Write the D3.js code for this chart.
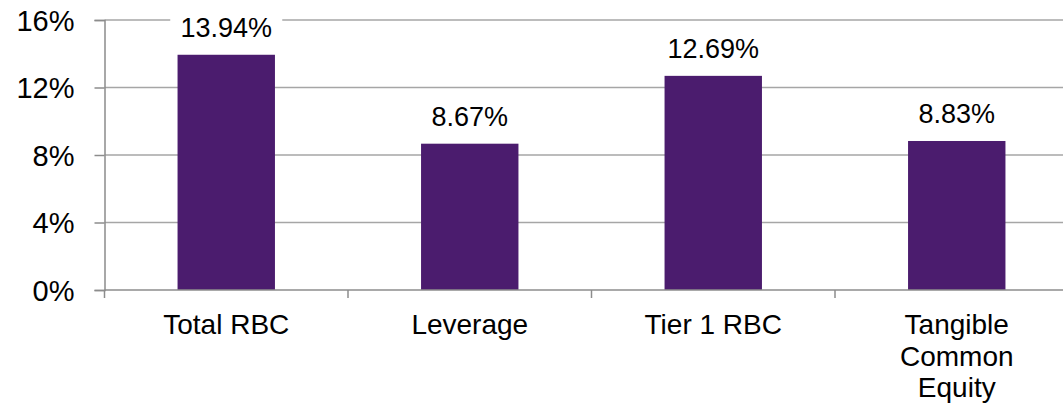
<!DOCTYPE html>
<html><head><meta charset="utf-8">
<script src="https://cdn.jsdelivr.net/npm/d3@7"></script>
<style>body{margin:0;background:#fff}svg{display:block}text{font-family:"Liberation Sans",Arial,sans-serif;fill:#000}</style>
</head><body><svg id="c" width="1063" height="408"></svg>
<script>
const categories = [["Total RBC"], ["Leverage"], ["Tier 1 RBC"], ["Tangible", "Common", "Equity"]];
const values = [13.94, 8.67, 12.69, 8.83];
const valueLabels = ["13.94%", "8.67%", "12.69%", "8.83%"];
const yTicks = [0, 4, 8, 12, 16];

const svg = d3.select("#c");
const mLeft = 104.5, mRight = 1078.5, mTop = 20, mBottom = 290;
const x = d3.scaleBand().domain(d3.range(categories.length)).range([mLeft, mRight]).padding(0);
const y = d3.scaleLinear().domain([0, 16]).range([mBottom, mTop]);

// gridlines
svg.append("g").selectAll("line").data(yTicks.filter(d => d > 0)).join("line")
  .attr("x1", mLeft).attr("x2", mRight)
  .attr("y1", d => y(d)).attr("y2", d => y(d))
  .attr("stroke", "#a6a6a6").attr("stroke-width", 1.5);

// bars
const bw = x.bandwidth() * 0.4;
svg.append("g").selectAll("rect").data(values).join("rect")
  .attr("x", (d, i) => x(i) + x.bandwidth() / 2 - bw / 2)
  .attr("y", d => y(d)).attr("width", bw).attr("height", d => y(0) - y(d))
  .attr("fill", "#4b1c6e");

// y axis
const ya = svg.append("g").attr("transform", `translate(${mLeft},0)`)
  .call(d3.axisLeft(y).tickValues(yTicks).tickFormat(d => d + "%").tickSize(10).tickPadding(20));
ya.select(".domain").attr("stroke", "#8c8c8c").attr("stroke-width", 1.5);
ya.selectAll(".tick line").attr("stroke", "#8c8c8c").attr("stroke-width", 1.5);
ya.selectAll(".tick text").attr("font-size", 29).attr("font-family", '"Liberation Sans",Arial,sans-serif').attr("fill", "#000").attr("dy", "0.36em");

// x axis
const xa = svg.append("g").attr("transform", `translate(0,${mBottom})`);
xa.append("line").attr("x1", mLeft).attr("x2", mRight).attr("stroke", "#8c8c8c").attr("stroke-width", 1.5);
xa.selectAll("line.t").data(d3.range(categories.length + 1)).join("line").attr("class", "t")
  .attr("x1", i => i < categories.length ? x(i) : mRight).attr("x2", i => i < categories.length ? x(i) : mRight)
  .attr("y1", 0).attr("y2", 8).attr("stroke", "#8c8c8c").attr("stroke-width", 1.5);
xa.selectAll("text").data(categories).join("text")
  .attr("text-anchor", "middle").attr("font-size", 28)
  .attr("transform", (d, i) => `translate(${x(i) + x.bandwidth() / 2},44)`)
  .selectAll("tspan").data(d => d).join("tspan")
  .attr("x", 0).attr("y", (d, j) => j * 31.5).text(d => d);

// value labels with white backing
const vl = svg.append("g").selectAll("g").data(values).join("g")
  .attr("transform", (d, i) => `translate(${x(i) + x.bandwidth() / 2},${y(d) - 18})`);
vl.append("rect").attr("x", -56).attr("y", -24).attr("width", 112).attr("height", 30).attr("fill", "#fff");
vl.append("text").attr("text-anchor", "middle").attr("font-size", 27)
  .text((d, i) => valueLabels[i]);
</script></body></html>
